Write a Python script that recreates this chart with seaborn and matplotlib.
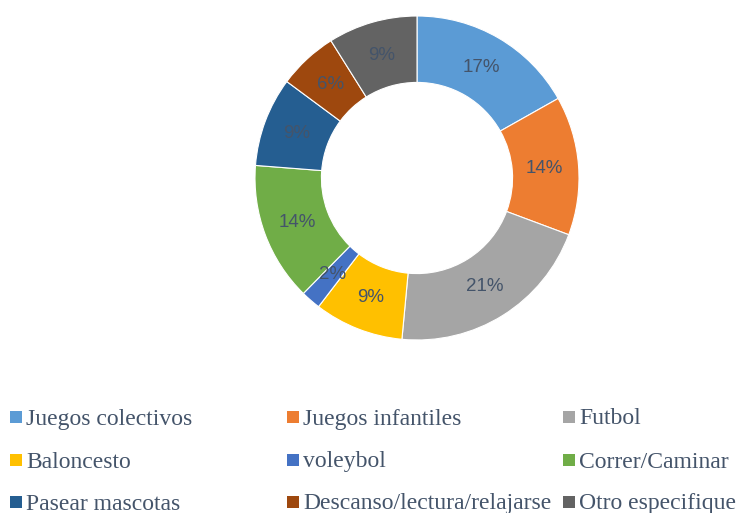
import matplotlib
matplotlib.use('Agg')
import matplotlib.pyplot as plt
import matplotlib.patches as mpatches
import seaborn as sns

categories = ['Juegos colectivos', 'Juegos infantiles', 'Futbol',
              'Baloncesto', 'voleybol', 'Correr/Caminar',
              'Pasear mascotas', 'Descanso/lectura/relajarse', 'Otro especifique']
values = [17, 14, 21, 9, 2, 14, 9, 6, 9]
colors = ['#5B9BD5', '#ED7D31', '#A5A5A5', '#FFC000', '#4472C4',
          '#70AD47', '#255E91', '#9E480E', '#636363']

sns.set_style('white')
plt.rcParams['font.family'] = ['Liberation Serif', 'DejaVu Serif']

W, H = 740, 513
fig = plt.figure(figsize=(W / 100, H / 100), dpi=100)

# donut
cx, cy, r = 417, 178, 162
ax = fig.add_axes([(cx - r) / W, 1 - (cy + r) / H, 2 * r / W, 2 * r / H])
wedges, texts, autotexts = ax.pie(
    values, colors=colors, startangle=90, counterclock=False,
    wedgeprops=dict(width=0.41, edgecolor='white', linewidth=0.8),
    autopct=lambda p: f'{p:.0f}%', pctdistance=0.79,
    textprops=dict(color='#44546A', fontsize=13.5, family='Liberation Sans'))
ax.set_xlim(-1, 1)
ax.set_ylim(-1, 1)
ax.set_aspect('equal')
ax.axis('off')

# legend, 3 columns laid out like the original
col_x = [10, 287, 563]
row_y = [418, 461, 503]
for i, (lab, c) in enumerate(zip(categories, colors)):
    x = col_x[i % 3]
    y = row_y[i // 3]
    fig.patches.append(mpatches.Rectangle(
        (x / W, 1 - (y + 5) / H), 12 / W, 12 / H, transform=fig.transFigure,
        facecolor=c, edgecolor='none'))
    fig.text((x + 16) / W, 1 - (y + 1) / H, lab, fontsize=17, color='#44546A',
             va='center', ha='left')

fig.savefig('out.png', dpi=100)
